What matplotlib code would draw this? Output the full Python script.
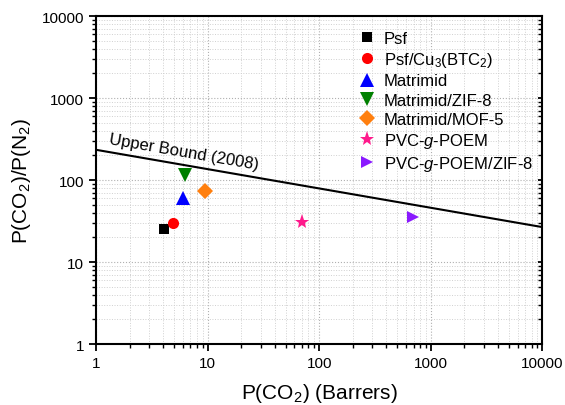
import matplotlib

matplotlib.use("Agg")
import matplotlib.pyplot as plt
import numpy as np

plt.rcParams["font.family"] = ["Liberation Sans", "DejaVu Sans"]
plt.rcParams["mathtext.fontset"] = "custom"
plt.rcParams["mathtext.rm"] = "Liberation Sans"
plt.rcParams["mathtext.it"] = "Liberation Sans:italic"

# membrane data: CO2 permeability (Barrers) and CO2/N2 selectivity
labels = [
    "Psf",
    r"Psf/Cu$_3$(BTC$_2$)",
    "Matrimid",
    "Matrimid/ZIF-8",
    "Matrimid/MOF-5",
    r"PVC-$g$-POEM",
    r"PVC-$g$-POEM/ZIF-8",
]
perm_co2 = [4.1, 4.9, 6.0, 6.3, 9.5, 70, 690]
selectivity = [25, 30, 60, 116, 74, 30.7, 35.5]
markers = ["s", "o", "^", "v", "D", "*", ">"]
colors = ["black", "red", "blue", "green", "#ff7f0e", "#ff1a8c", "#8a1aff"]
sizes = [7, 8, 9.5, 9.5, 8, 11, 9]

# 2008 upper bound endpoints
bound_x = [1, 10000]
bound_y = [234, 26.7]

fig, ax = plt.subplots(figsize=(5.65, 4.06), dpi=100)
fig.subplots_adjust(left=0.17, right=0.96, top=0.958, bottom=0.15)

ax.plot(bound_x, bound_y, color="black", lw=1.5, zorder=3)

for x, y, m, c, s, lab in zip(perm_co2, selectivity, markers, colors, sizes, labels):
    ax.plot([x], [y], linestyle="none", marker=m, color=c, markersize=s,
            markeredgewidth=0, label=lab, zorder=4)

ax.set_xscale("log")
ax.set_yscale("log")
ax.set_xlim(1, 10000)
ax.set_ylim(1, 10000)
ax.set_xticks([1, 10, 100, 1000, 10000])
ax.set_xticklabels(["1", "10", "100", "1000", "10000"])
ax.set_yticks([1, 10, 100, 1000, 10000])
ax.set_yticklabels(["1", "10", "100", "1000", "10000"])

ax.grid(True, which="major", linestyle=":", color="#b0b0b0", lw=0.8)
ax.grid(True, which="minor", linestyle=":", color="#d0d0d0", lw=0.7)
ax.set_axisbelow(True)

for sp in ax.spines.values():
    sp.set_linewidth(1.5)
ax.tick_params(which="major", direction="out", length=5, width=1.3, labelsize=11, top=False)
ax.tick_params(which="minor", direction="out", length=3, width=1.0, top=False)
# right side: short inward ticks, no labels
ax.tick_params(axis="y", which="major", right=True, labelright=False)
ax.tick_params(axis="y", which="minor", right=True)
for t in ax.yaxis.get_major_ticks() + ax.yaxis.get_minor_ticks():
    t.tick2line.set_marker(matplotlib.lines.TICKLEFT)
    t.tick2line.set_markersize(3)

ax.set_xlabel(r"P(CO$_2$) (Barrers)", fontsize=15, labelpad=8)
ax.set_ylabel(r"P(CO$_2$)/P(N$_2$)", fontsize=15, labelpad=6)

# slope of the bound in screen coordinates for the label
fig.canvas.draw()
p0 = ax.transData.transform((bound_x[0], bound_y[0]))
p1 = ax.transData.transform((bound_x[1], bound_y[1]))
angle = np.degrees(np.arctan2(p1[1] - p0[1], p1[0] - p0[0]))
ax.text(1.28, 262, "Upper Bound (2008)", fontsize=12, rotation=angle,
        rotation_mode="anchor", ha="left", va="bottom")

ax.legend(loc="upper left", bbox_to_anchor=(0.55, 1.0), frameon=False, fontsize=12,
          handletextpad=0.45, labelspacing=0.25, borderaxespad=0.5, handlelength=1.2)

fig.savefig("out.png", dpi=100)
